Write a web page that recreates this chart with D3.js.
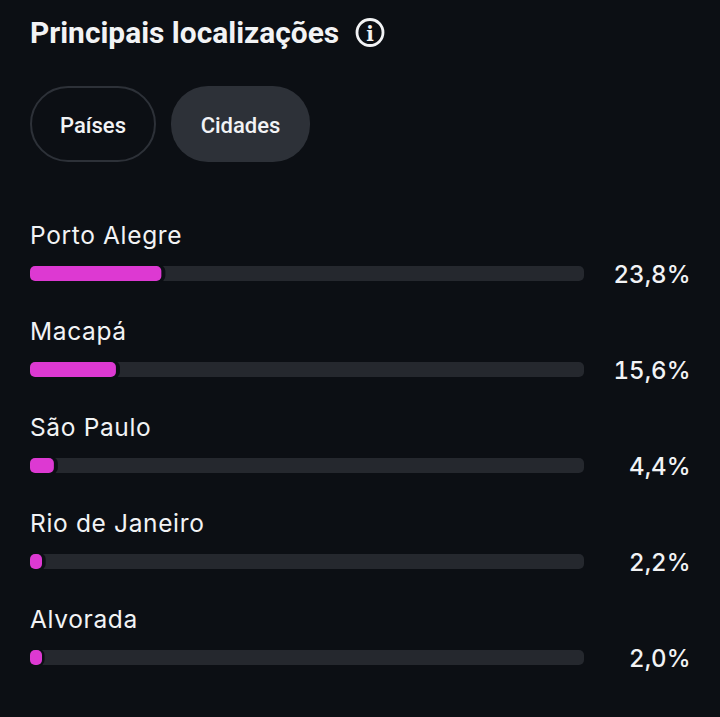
<!DOCTYPE html>
<html><head><meta charset="utf-8">
<script src="https://cdn.jsdelivr.net/npm/d3@7/dist/d3.min.js"></script>
<style>html,body{margin:0;padding:0;background:#0c0f14}svg{display:block}</style>
</head><body><div id="chart"></div>
<script>
const title = "Principais localizações";
const tabs = ["Países", "Cidades"];
const cities = ["Porto Alegre", "Macapá", "São Paulo", "Rio de Janeiro", "Alvorada"];
const shares = [23.8, 15.6, 4.4, 2.2, 2.0];
const shareLabels = ["23,8%", "15,6%", "4,4%", "2,2%", "2,0%"];

const svg = d3.select("#chart").append("svg").attr("width", 720).attr("height", 717);
svg.append("rect").attr("width", 720).attr("height", 717).attr("fill", "#0c0f14");

svg.append("text").text(title).attr("x", 30).attr("y", 42.5)
  .attr("font-family", "Roboto").attr("font-weight", 700).attr("font-size", 29.9).attr("fill", "#f2f3f5");

const info = svg.append("g").attr("transform", "translate(370,32.5)");
info.append("circle").attr("r", 13).attr("fill", "none").attr("stroke", "#f2f3f5").attr("stroke-width", 2.8);
info.append("text").text("i").attr("y", 8).attr("text-anchor", "middle")
  .attr("font-family", "DejaVu Serif").attr("font-weight", 700).attr("font-size", 20).attr("fill", "#f2f3f5");

const tabBox = [{x: 31, w: 124, on: false}, {x: 171, w: 139, on: true}];
tabs.forEach((t, i) => {
  const b = tabBox[i];
  svg.append("rect").attr("x", b.x).attr("width", b.w).attr("height", b.on ? 76 : 74)
    .attr("y", b.on ? 86 : 87).attr("rx", 37).attr("fill", b.on ? "#2d3138" : "none")
    .attr("stroke", b.on ? "none" : "#2d3138").attr("stroke-width", 2);
  svg.append("text").text(t).attr("x", b.x + b.w / 2).attr("y", 133).attr("text-anchor", "middle")
    .attr("font-family", "Roboto").attr("font-weight", 500).attr("font-size", 22).attr("fill", "#f2f3f5");
});

const x = d3.scaleLinear().domain([0, 100]).range([0, 554]);
const y = d3.scalePoint().domain(cities).range([266, 650]);
const row = svg.selectAll("g.row").data(cities).join("g").attr("class", "row")
  .attr("transform", d => `translate(30,${y(d)})`);
row.append("rect").attr("width", x(100)).attr("height", 15).attr("rx", 5).attr("fill", "#25282e");
row.append("rect").attr("x", 0).attr("y", -1).attr("width", (d, i) => x(shares[i]) + 3.5).attr("height", 17).attr("rx", 6).attr("fill", "#0c0f14");
row.append("rect").attr("width", (d, i) => Math.max(x(shares[i]) - 0.5, 12)).attr("height", 15).attr("rx", 5).attr("fill", "#dd39d2");
row.append("text").text(d => d).attr("y", -22)
  .attr("font-family", "Inter").attr("font-size", 24.5).attr("font-weight", 400).attr("letter-spacing", 0.65).attr("fill", "#f2f3f5");
row.append("text").text((d, i) => shareLabels[i]).attr("x", 660.5).attr("y", 17).attr("text-anchor", "end")
  .attr("font-family", "Inter").attr("font-size", 24).attr("font-weight", 500).style("font-variant-numeric", "tabular-nums").attr("fill", "#f2f3f5");
</script></body></html>
